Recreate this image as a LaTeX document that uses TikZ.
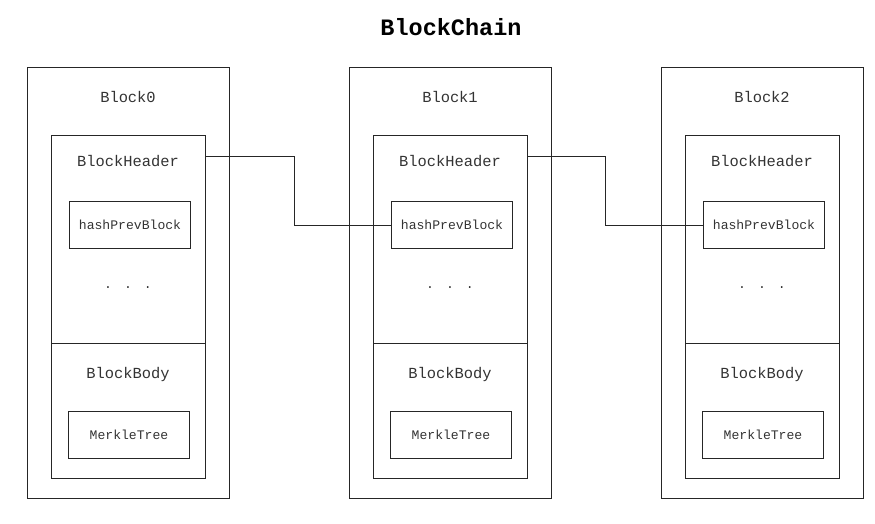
\documentclass[tikz,border=0pt]{standalone}
\usepackage{fontspec}
\setmonofont{Liberation Mono}
\begin{document}
\begin{tikzpicture}[x=1pt,y=-1pt,
  line/.style={draw=black!85, line width=1pt},
  frame/.style={line, rectangle, inner sep=0pt, anchor=north west},
  lbl/.style={text=black!80, font=\ttfamily\fontsize{15.4}{17}\selectfont, inner sep=0pt},
  small/.style={text=black!80, font=\ttfamily\fontsize{13.1}{15}\selectfont, inner sep=0pt},
  title/.style={text=black, font=\ttfamily\bfseries\fontsize{23.5}{26}\selectfont, inner sep=0pt}]
\useasboundingbox (0,0) rectangle (875,523);
\node[title] (t) at (451,27) {BlockChain};
\foreach \i/\L in {0/27,1/349,2/661}{
  \node[frame, minimum width=202pt, minimum height=431pt] (b\i) at (\L,67) {};
  \node[frame, minimum width=154pt, minimum height=208pt] (h\i) at (\L+24,135) {};
  \node[frame, minimum width=154pt, minimum height=135pt] (d\i) at (\L+24,343) {};
  \node[frame, minimum width=121pt, minimum height=47pt] (p\i) at (\L+42,201) {};
  \node[frame, minimum width=121pt, minimum height=47pt] (m\i) at (\L+41,411) {};
  \node[lbl] (bl\i) at (\L+101,97) {Block\i};
  \node[lbl] (hl\i) at (\L+101,161) {BlockHeader};
  \node[small] (pl\i) at (p\i.center) {hashPrevBlock};
  \node[small] (dots\i) at (\L+101,288) {.\hspace{12pt}.\hspace{12pt}.};
  \node[lbl] (dl\i) at (\L+101,375) {BlockBody};
  \node[small] (ml\i) at (m\i.center) {MerkleTree};
}
\draw[line] ([yshift=-21pt]h0.north east) -- ++(88,0) |- (p1.west);
\draw[line] ([yshift=-21pt]h1.north east) -- ++(77,0) |- (p2.west);
\end{tikzpicture}
\end{document}
